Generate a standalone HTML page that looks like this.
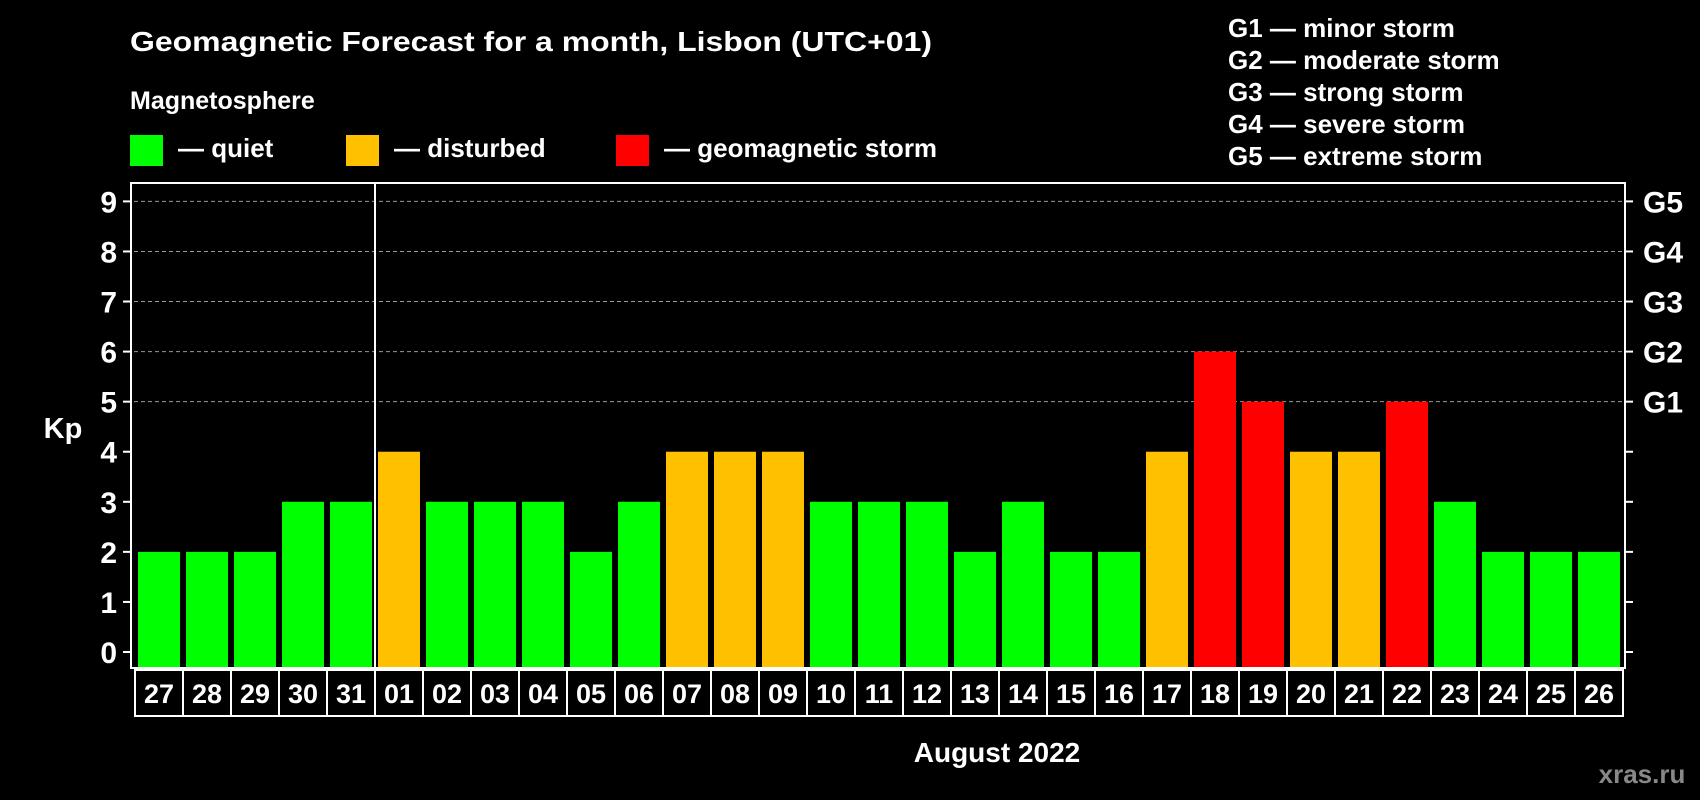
<!DOCTYPE html>
<html><head><meta charset="utf-8"><style>
html,body{margin:0;padding:0;background:#000;}
svg{display:block;font-family:"Liberation Sans",Arial,sans-serif;font-weight:bold;}
</style></head><body>
<svg id="chart" width="1700" height="800" viewBox="0 0 1700 800">
<rect width="1700" height="800" fill="#000"/>
<text x="130" y="51" font-size="28" fill="#fff" textLength="802" lengthAdjust="spacingAndGlyphs">Geomagnetic Forecast for a month, Lisbon (UTC+01)</text>
<text x="130" y="109" font-size="25" fill="#fff">Magnetosphere</text>
<g><rect x="130" y="135" width="33" height="31" fill="#00ff00"/><text x="178" y="157" font-size="26" fill="#fff">— quiet</text></g>
<g><rect x="346" y="135" width="33" height="31" fill="#ffc000"/><text x="394" y="157" font-size="26" fill="#fff">— disturbed</text></g>
<g><rect x="616" y="135" width="33" height="31" fill="#ff0000"/><text x="664" y="157" font-size="26" fill="#fff">— geomagnetic storm</text></g>
<g font-size="26" fill="#fff">
<text x="1228" y="37">G1 — minor storm</text>
<text x="1228" y="69">G2 — moderate storm</text>
<text x="1228" y="101">G3 — strong storm</text>
<text x="1228" y="133">G4 — severe storm</text>
<text x="1228" y="165">G5 — extreme storm</text>
</g>
<g id="grid"></g><g id="bars"></g><g id="axes"></g>
<text x="63" y="438" font-size="29" fill="#fff" text-anchor="middle">Kp</text>
<text x="997" y="762" font-size="28" fill="#fff" text-anchor="middle">August 2022</text>
<text x="1642" y="783" font-size="26" fill="#888" text-anchor="middle">xras.ru</text>
</svg>
<script>
const days = ["27","28","29","30","31","01","02","03","04","05","06","07","08","09","10","11","12","13","14","15","16","17","18","19","20","21","22","23","24","25","26"];
const kpValues = [2,2,2,3,3,4,3,3,3,2,3,4,4,4,3,3,3,2,3,2,2,4,6,5,4,4,5,3,2,2,2];
const yTicks = [0,1,2,3,4,5,6,7,8,9];
const gLabels = ["","","","","","G1","G2","G3","G4","G5"];
const NS="http://www.w3.org/2000/svg";
const L=131,R=1625,T=183,B=668,y0=652,unit=(652-201.4)/9;
const firstBar=138,pitch=48,bw=42;
const y=v=>y0-v*unit;
const x=i=>firstBar+i*pitch;
function mk(tag,attrs,parent){const e=document.createElementNS(NS,tag);for(const k in attrs)e.setAttribute(k,attrs[k]);parent.appendChild(e);return e;}
const grid=document.getElementById('grid'),bars=document.getElementById('bars'),axes=document.getElementById('axes');
yTicks.forEach((t,i)=>{
  if(t>=5){const g=mk('line',{x1:L+3,x2:R,y1:y(t),y2:y(t),stroke:'#999','stroke-width':1,'stroke-dasharray':'4,3'},grid);
  
  }
  const tl=mk('line',{x1:L-8,x2:L,y1:y(t),y2:y(t),stroke:'#fff','stroke-width':2},axes);
  
  
  const tr=mk('line',{x1:R,x2:R+8,y1:y(t),y2:y(t),stroke:'#fff','stroke-width':2},axes);
  
  
  const lb=mk('text',{x:L-14,y:y(t)+11,'font-size':30,fill:'#fff','text-anchor':'end'},axes);
  lb.textContent=t;
  
  
  if(gLabels[i]){const gl=mk('text',{x:R+18,y:y(t)+11,'font-size':30,fill:'#fff'},axes);
  gl.textContent=gLabels[i];
  
  }
});
kpValues.forEach((v,i)=>{
  const c=v>=5?'#ff0000':(v>=4?'#ffc000':'#00ff00');
  const r=mk('rect',{x:x(i),y:y(v),width:bw,height:B-1-y(v),fill:c},bars);
  
  
  const bx=mk('rect',{x:x(i)-3,y:670,width:pitch,height:46,fill:'none',stroke:'#fff','stroke-width':2},axes);
  
  
  const dt=mk('text',{x:x(i)+bw/2,y:703,'font-size':27,fill:'#fff','text-anchor':'middle'},axes);
  dt.textContent=days[i];
  
  
});
const fr=mk('rect',{x:L,y:T,width:R-L,height:B-T,fill:'none',stroke:'#fff','stroke-width':2},axes);


const mi=days.indexOf("01");
const dv=mk('line',{x1:x(mi)-3,x2:x(mi)-3,y1:T,y2:B,stroke:'#fff','stroke-width':2},axes);


</script>
</body></html>
